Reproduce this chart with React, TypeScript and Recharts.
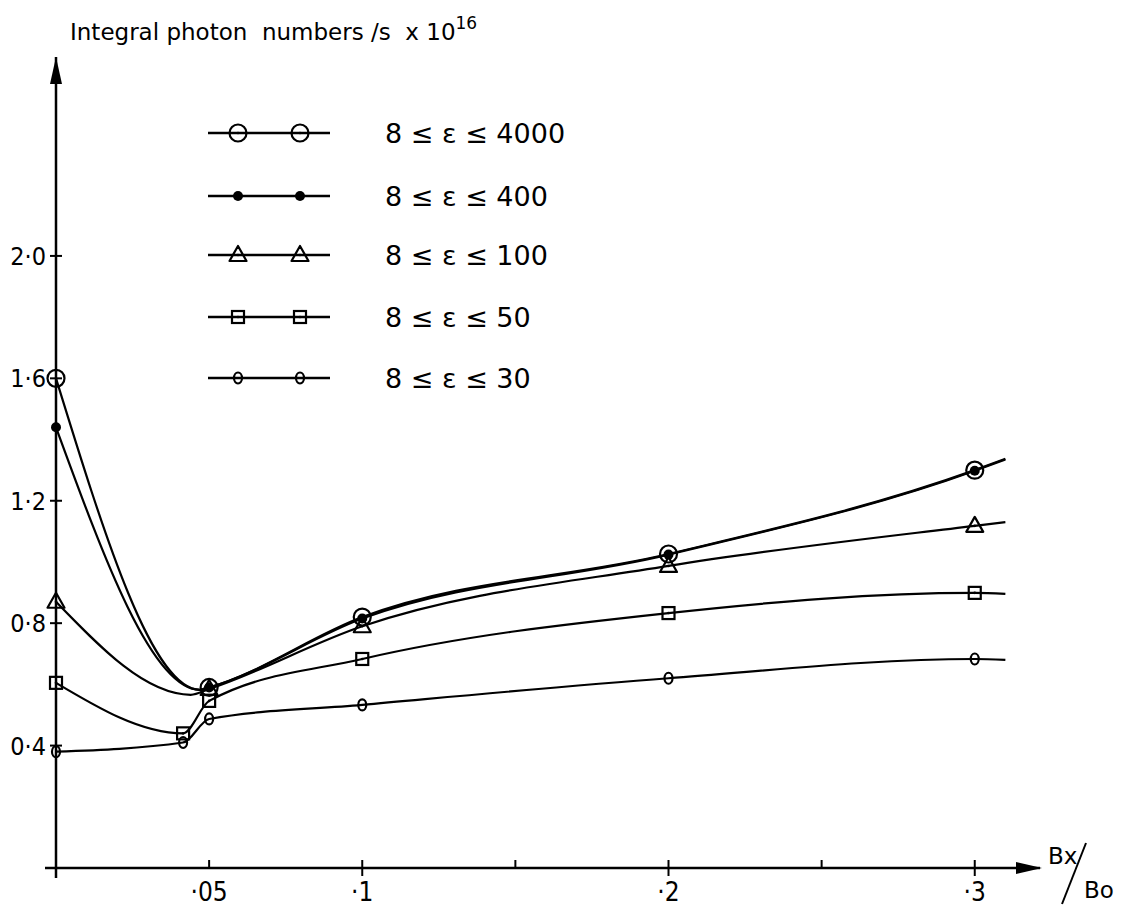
import React from "react";
import { LineChart, Line, XAxis, YAxis } from "recharts";

// Bx/Bo positions of the curve vertices.
// A point gets a marker only when its x is in markedX; the others are where
// a drawn curve has its low point or ends.
const x4000 = [0, 0.047, 0.05, 0.1, 0.2, 0.3, 0.31];
const x100 = [0, 0.044, 0.05, 0.1, 0.2, 0.3, 0.31];
const xLow = [0, 0.0415, 0.05, 0.1, 0.2, 0.3, 0.31];
const markedX = [0, 0.0415, 0.05, 0.1, 0.2, 0.3];

// integral photon numbers /s x 10^16
const y4000 = [1.6, 0.582, 0.59, 0.82, 1.026, 1.3, 1.337];
const y400 = [1.44, 0.582, 0.59, 0.815, 1.024, 1.298, 1.335];
const y100 = [0.87, 0.566, 0.585, 0.79, 0.987, 1.118, 1.13];
const y50 = [0.605, 0.44, 0.546, 0.683, 0.833, 0.899, 0.896];
const y30 = [0.38, 0.41, 0.487, 0.533, 0.62, 0.683, 0.68];

const seriesNames = [
  "8 ≤ ε ≤ 4000",
  "8 ≤ ε ≤ 400",
  "8 ≤ ε ≤ 100",
  "8 ≤ ε ≤ 50",
  "8 ≤ ε ≤ 30",
];

const xTicks = [0.05, 0.1, 0.15, 0.2, 0.25, 0.3];
const xMajor = [0.1, 0.2, 0.3];
const xTickLabels: Record<string, string> = { "0.05": "·05", "0.1": "·1", "0.2": "·2", "0.3": "·3" };
const yTicks = [0.4, 0.8, 1.2, 1.6, 2.0];
const yTickLabels = ["0·4", "0·8", "1·2", "1·6", "2·0"];

const W = 1131;
const H = 909;
const M = { top: 57, right: 95, bottom: 0, left: 0 };
const Y_AXIS_W = 56;
const X_AXIS_H = 41;
const FONT = "'DejaVu Sans Condensed', 'DejaVu Sans', sans-serif";
const FONT_WIDE = "'DejaVu Sans', sans-serif";

const plotLeft = M.left + Y_AXIS_W;
const plotRight = W - M.right;
const plotTop = M.top;
const plotBottom = H - M.bottom - X_AXIS_H;

const toPoints = (xs: number[], ys: number[]) =>
  xs.map((x, i) => ({ x, y: ys[i], marked: markedX.some((m) => Math.abs(m - x) < 1e-9) }));

const series = [
  { name: seriesNames[0], kind: "circle", data: toPoints(x4000, y4000) },
  { name: seriesNames[1], kind: "dot", data: toPoints(x4000, y400) },
  { name: seriesNames[2], kind: "triangle", data: toPoints(x100, y100) },
  { name: seriesNames[3], kind: "square", data: toPoints(xLow, y50) },
  { name: seriesNames[4], kind: "small", data: toPoints(xLow, y30) },
];

function Marker({ kind, cx, cy }: { kind: string; cx: number; cy: number }) {
  const s = { stroke: "#000", strokeWidth: 2.2, fill: "none" };
  const center = <circle cx={cx} cy={cy} r={1.3} fill="#000" />;
  switch (kind) {
    case "circle":
      return (
        <g>
          <circle cx={cx} cy={cy} r={8.5} {...s} />
          {center}
        </g>
      );
    case "dot":
      return <circle cx={cx} cy={cy} r={5} fill="#000" />;
    case "triangle":
      return (
        <g>
          <path
            d={`M${cx},${cy - 9} L${cx + 8.5},${cy + 6} L${cx - 8.5},${cy + 6} Z`}
            {...s}
            strokeLinejoin="round"
          />
          {center}
        </g>
      );
    case "square":
      return (
        <g>
          <rect x={cx - 6} y={cy - 6} width={12} height={12} {...s} />
          {center}
        </g>
      );
    default:
      return <ellipse cx={cx} cy={cy} rx={4} ry={5.5} {...s} />;
  }
}

const XTick = (props: any) => {
  const { x, y, payload } = props;
  const v = payload.value;
  const major = xMajor.some((m) => Math.abs(m - v) < 1e-9);
  const label = xTickLabels[String(v)];
  return (
    <g>
      <line x1={x} x2={x} y1={y - 8} y2={major ? y + 8 : y} stroke="#000" strokeWidth={2} />
      {label && (
        <text x={x} y={y + 33} textAnchor="middle" fontFamily={FONT} fontSize={26} fill="#000">
          {label}
        </text>
      )}
    </g>
  );
};

const YTick = (props: any) => {
  const { x, y, payload, index } = props;
  return (
    <g>
      <line x1={x - 6} x2={x + 6} y1={y} y2={y} stroke="#000" strokeWidth={2} />
      <text x={x - 10} y={y + 9} textAnchor="end" fontFamily={FONT} fontSize={25} fill="#000">
        {yTickLabels[index] ?? payload.value}
      </text>
    </g>
  );
};

const legendRows = [133, 196, 255, 317, 378];

export default function App() {
  return (
    <div style={{ position: "absolute", left: 0, top: 0, width: W, height: H, background: "#fff" }}>
      <LineChart width={W} height={H} margin={M}>
        <XAxis
          dataKey="x"
          type="number"
          domain={[0, 0.32]}
          ticks={xTicks}
          interval={0}
          tickSize={0}
          tickMargin={0}
          tickLine={false}
          tick={XTick}
          height={X_AXIS_H}
          axisLine={{ stroke: "#000", strokeWidth: 2.5 }}
          allowDuplicatedCategory={false}
        />
        <YAxis
          type="number"
          domain={[0, 2.65]}
          ticks={yTicks}
          interval={0}
          tickSize={0}
          tickMargin={0}
          tickLine={false}
          tick={YTick}
          width={Y_AXIS_W}
          axisLine={{ stroke: "#000", strokeWidth: 2.5 }}
        />
        {series.map((s) => (
          <Line
            key={s.name}
            name={s.name}
            data={s.data}
            dataKey="y"
            type="monotone"
            stroke="#000"
            strokeWidth={2.2}
            isAnimationActive={false}
            activeDot={false}
            dot={(p: any) =>
              p.payload.marked ? (
                <Marker key={`${s.kind}-${p.index}`} kind={s.kind} cx={p.cx} cy={p.cy} />
              ) : (
                <g key={`${s.kind}-${p.index}`} />
              )
            }
          />
        ))}
      </LineChart>
      <svg
        width={W}
        height={H}
        style={{ position: "absolute", left: 0, top: 0, pointerEvents: "none" }}
        fontFamily={FONT_WIDE}
      >
        <text x={70} y={40} fontSize={23} fill="#000" style={{ whiteSpace: "pre" }}>
          {"Integral photon  numbers /s  x 10"}
          <tspan fontSize={17} dy={-11}>16</tspan>
        </text>
        {/* axis arrows and overhangs */}
        <path d={`M${plotLeft},${plotTop} L${plotLeft + 6},${plotTop + 27} L${plotLeft - 6},${plotTop + 27} Z`} fill="#000" />
        <path d={`M${plotRight + 6},${plotBottom} L${plotRight - 20},${plotBottom - 6} L${plotRight - 20},${plotBottom + 6} Z`} fill="#000" />
        <line x1={plotRight} x2={plotRight + 4} y1={plotBottom} y2={plotBottom} stroke="#000" strokeWidth={2.5} />
        <line x1={plotLeft - 11} x2={plotLeft} y1={plotBottom} y2={plotBottom} stroke="#000" strokeWidth={2.5} />
        <line x1={plotLeft} x2={plotLeft} y1={plotBottom} y2={plotBottom + 10} stroke="#000" strokeWidth={2.5} />
        <text x={plotRight + 12} y={plotBottom - 4} fontSize={23} fill="#000">Bx</text>
        <line x1={plotRight + 50} y1={plotBottom - 25} x2={plotRight + 26} y2={plotBottom + 36} stroke="#000" strokeWidth={2} />
        <text x={plotRight + 48} y={plotBottom + 30} fontSize={23} fill="#000">Bo</text>
        {/* legend */}
        {series.map((s, i) => (
          <g key={s.name}>
            <line x1={208} x2={330} y1={legendRows[i]} y2={legendRows[i]} stroke="#000" strokeWidth={2.4} />
            <Marker kind={s.kind} cx={238} cy={legendRows[i]} />
            <Marker kind={s.kind} cx={300} cy={legendRows[i]} />
            <text x={385} y={legendRows[i] + 10} fontSize={27} fill="#000" style={{ whiteSpace: "pre" }}>
              {s.name}
            </text>
          </g>
        ))}
      </svg>
    </div>
  );
}
